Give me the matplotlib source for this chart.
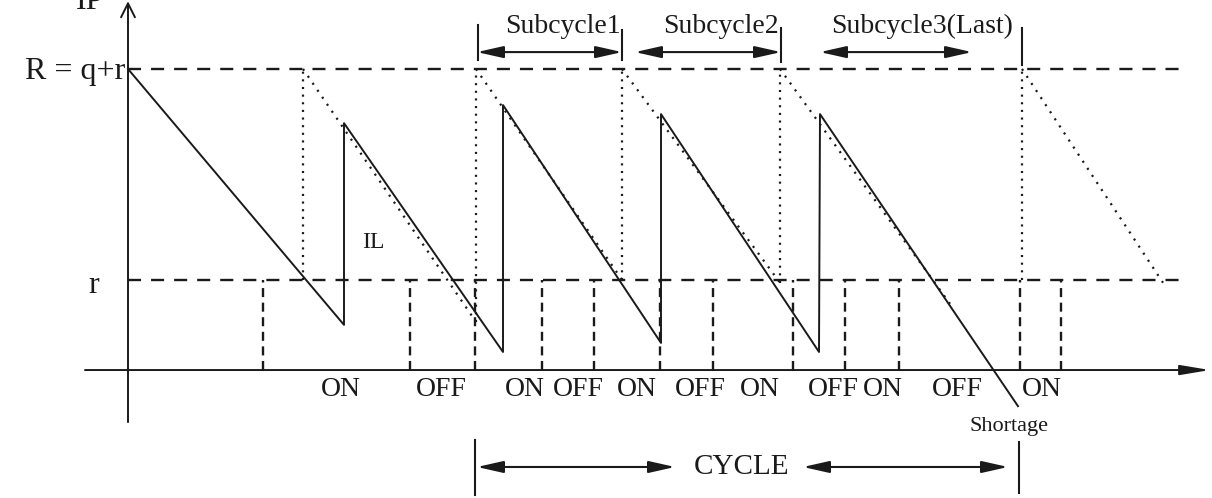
import matplotlib
matplotlib.use("Agg")
import matplotlib.pyplot as plt

plt.rcParams["font.family"] = ["Liberation Serif", "DejaVu Serif"]
plt.rcParams["lines.scale_dashes"] = False

INK = "#1a1a1a"

# inventory levels (R = q + r is the order-up-to level, r the reorder point)
R_LEVEL = 10.0
r_LEVEL = 3.0

# inventory level IL: sawtooth breakpoints (time, level)
il_t = [0, 21.6, 21.6, 37.5, 37.5, 53.3, 53.3, 69.1, 69.2, 89.0]
il_level = [10, 1.5, 8.2, 0.6, 8.8, 0.9, 8.5, 0.6, 8.5, -1.2]

# inventory position IP: order times, IP just before the order, end of each decline
order_t = [17.5, 34.8, 49.4, 65.2, 89.4]
order_low = [3.0, 1.6, 3.0, 2.9, 3.0]
ip_end_t = [34.8, 49.4, 65.2, 82.2, 103.5]
ip_end_level = [1.6, 3.0, 2.9, 2.2, 2.9]

# ON / OFF switching times of the supplier
switch_t = [13.5, 28.2, 34.7, 41.4, 46.6, 53.2, 58.5, 66.5, 71.7, 77.1, 89.2, 93.3]
state_t = [21.3, 31.3, 39.7, 45.0, 50.9, 57.2, 63.2, 70.5, 75.5, 82.9, 91.4]
state_labels = ["ON", "OFF", "ON", "OFF", "ON", "OFF", "ON", "OFF", "ON", "OFF", "ON"]

# subcycles inside one cycle
sub_start = [34.9, 50.7, 69.2]
sub_end = [49.4, 65.3, 84.4]
sub_mid = [43.5, 59.3, 79.4]
sub_labels = ["Subcycle1", "Subcycle2", "Subcycle3(Last)"]
sub_tick_t = [35.0, 49.4, 65.3, 89.4]
sub_tick_top = [11.46, 11.3, 11.36, 11.36]
sub_tick_bot = [10.3, 10.3, 10.23, 10.13]

# the whole cycle
cycle_start = 34.7
cycle_end = 89.1


fig = plt.figure(figsize=(12.12, 4.98), dpi=100)
ax = fig.add_axes([0, 0, 1, 1])
ax.set_xlim(-12.8, 108.4)
ax.set_ylim(-4.25, 12.29)
ax.axis("off")

# axes with arrows
ax.annotate("", xy=(108.2, 0), xytext=(-4.3, 0),
            arrowprops=dict(arrowstyle="-|>,head_length=0.9,head_width=0.15",
                            mutation_scale=20, lw=1.4, color=INK,
                            shrinkA=0, shrinkB=0))
ax.annotate("", xy=(0, 12.25), xytext=(0, -1.73),
            arrowprops=dict(arrowstyle="->,head_length=0.5,head_width=0.25",
                            mutation_scale=20, lw=1.4, color=INK,
                            shrinkA=0, shrinkB=0))

# R and r levels
ax.plot([0, 105.9], [R_LEVEL, R_LEVEL], color=INK, lw=1.7, dashes=(9.4, 7.2))
ax.plot([0, 105.9], [r_LEVEL, r_LEVEL], color=INK, lw=1.7, dashes=(9.4, 7.2))

# ON/OFF square wave below r
for t in switch_t:
    ax.plot([t, t], [0, r_LEVEL], color=INK, lw=1.7, dashes=(6.5, 4.0))

# inventory level
ax.plot(il_t, il_level, color=INK, lw=1.4)

# inventory position (dotted)
for i in range(len(order_t)):
    ax.plot([order_t[i], order_t[i]], [order_low[i], R_LEVEL],
            color=INK, lw=1.6, dashes=(1.5, 4.0))
    ax.plot([order_t[i], ip_end_t[i]], [R_LEVEL, ip_end_level[i]],
            color=INK, lw=1.6, dashes=(1.5, 4.6))

# ON / OFF labels
for t, lab in zip(state_t, state_labels):
    ax.text(t, -0.66, lab, ha="center", va="center", fontsize=20, color=INK)

# subcycle arrows and labels
for s, e in zip(sub_start, sub_end):
    ax.annotate("", xy=(e, 10.56), xytext=(s, 10.56),
                arrowprops=dict(arrowstyle="<|-|>,head_length=0.8,head_width=0.18",
                                mutation_scale=20, lw=1.5, color=INK,
                                shrinkA=0, shrinkB=0))
for t, top, bot in zip(sub_tick_t, sub_tick_top, sub_tick_bot):
    ax.plot([t, t], [bot, top], color=INK, lw=1.5)
for m, lab in zip(sub_mid, sub_labels):
    ax.text(m, 11.4, lab, ha="center", va="center", fontsize=20, color=INK)

# cycle arrow
ax.plot([cycle_start, cycle_start], [-2.33, -4.15], color=INK, lw=1.5)
ax.plot([cycle_end, cycle_end], [-2.39, -4.09], color=INK, lw=1.5)
ax.annotate("", xy=(54.7, -3.22), xytext=(cycle_start + 0.2, -3.22),
            arrowprops=dict(arrowstyle="<|-|>,head_length=0.8,head_width=0.18",
                            mutation_scale=20, lw=1.5, color=INK,
                            shrinkA=0, shrinkB=0))
ax.annotate("", xy=(cycle_end - 1.1, -3.22), xytext=(67.5, -3.22),
            arrowprops=dict(arrowstyle="<|-|>,head_length=0.8,head_width=0.18",
                            mutation_scale=20, lw=1.5, color=INK,
                            shrinkA=0, shrinkB=0))
ax.text(61.4, -3.22, "CYCLE", ha="center", va="center", fontsize=21, color=INK)

# other labels
ax.text(-0.3, 9.9, "R = q+r", ha="right", va="center", fontsize=23, color=INK)
ax.text(-3.4, 2.8, "r", ha="center", va="center", fontsize=23, color=INK)
ax.text(-3.8, 12.0, "IP", ha="center", va="baseline", fontsize=23, color=INK,
        clip_on=False)
ax.text(24.5, 4.25, "IL", ha="center", va="center", fontsize=17, color=INK)
ax.text(88.1, -1.89, "Shortage", ha="center", va="center", fontsize=16, color=INK)

plt.savefig("out.png", dpi=100)
plt.close()
